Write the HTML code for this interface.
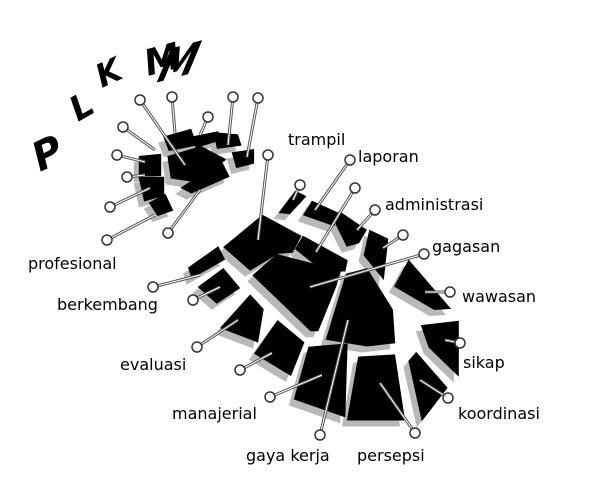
<!DOCTYPE html>
<html><head><meta charset="utf-8"><style>
html,body{margin:0;padding:0;background:#fff;width:596px;height:504px;overflow:hidden}
text{font-family:"DejaVu Sans","Liberation Sans",sans-serif;font-size:16px;fill:#000}
</style></head><body>
<svg id="s" width="596" height="504" viewBox="0 0 596 504">
<g id="letters">
<text x="40" y="172" transform="rotate(-25 40 172)" style="font-size:40px;font-weight:bold;font-style:italic">P</text>
<text x="78" y="122" transform="rotate(-30 78 122)" style="font-size:34px;font-weight:bold;font-style:italic">L</text>
<text x="102" y="88" transform="rotate(-25 102 88)" style="font-size:32px;font-weight:bold;font-style:italic">K</text>
<text x="148" y="76" transform="rotate(-15 148 76)" style="font-size:36px;font-weight:bold;font-style:italic">M</text>
<text x="196" y="72" transform="rotate(-15 196 72) skewX(-30)" style="font-size:40px;font-weight:bold;font-style:italic">M</text>
</g>
<g id="shadows" fill="#b8b8b8" transform="translate(-5,6)"></g>
<g id="blocks" fill="#000"></g>
<g id="pins"></g>
<g id="labels"></g>
</svg>
<script>
const blocks=[
"228,247 263,218 298,237 290,252 277,253 252,268",
"258,277 280,258 337,273 333,287 317,327 310,327",
"330,337 348,278 367,273 390,310 392,340 367,343",
"298,250 305,238 345,260 343,270 323,270",
"280,212 295,192 305,197 290,213",
"305,215 313,202 337,213 333,225",
"337,225 340,213 365,230 358,242 347,245",
"365,255 370,232 387,240 383,277",
"397,287 410,263 448,307 433,308",
"423,327 457,323 457,373 430,347",
"410,363 417,355 445,387 422,417",
"360,360 393,358 402,417 350,417",
"310,350 345,347 343,413 297,397",
"257,353 278,323 302,343 290,373",
"223,327 250,297 262,310 257,340",
"200,287 223,270 238,288 217,302",
"190,267 217,248 223,260 193,277",
"170,157 200,148 223,160 193,180 173,177",
"165,137 190,130 195,145 170,150",
"192,137 217,132 220,140 197,147",
"215,133 237,135 240,145 218,148",
"233,153 253,150 253,163 237,167",
"183,187 220,163 227,177 193,192",
"140,157 160,155 160,175 140,175",
"140,178 163,178 163,195 145,200",
"150,203 165,195 172,210 158,215"
];
const pins=[
[140,100,185,165],[172,97,175,133],[208,117,200,135],[233,97,228,145],[258,98,247,157],
[123,127,155,150],[117,155,145,162],[127,177,145,175],[110,207,150,188],[107,240,155,215],[168,233,200,190],
[268,155,258,240],[300,185,293,200],[350,160,315,210],[355,188,316,252],[375,210,357,230],
[403,235,383,248],[424,254,310,287],[450,292,425,292],[460,343,445,340],[448,398,420,380],
[415,433,380,383],[320,435,348,320],[270,397,322,375],[240,370,272,353],[197,347,238,320],
[193,300,220,287],[153,287,200,275]
];
const labels=["trampil","laporan","administrasi","gagasan","wawasan","sikap","koordinasi","persepsi","gaya kerja","manajerial","evaluasi","berkembang","profesional"];
const labelX=[288,358,385,432,462,463,458,357,246,172,120,57,28];
const labelY=[145,162,210,252,302,368,419,461,461,419,370,310,269];
const NS="http://www.w3.org/2000/svg";
const sh=document.getElementById('shadows'),bl=document.getElementById('blocks'),pg=document.getElementById('pins'),lg=document.getElementById('labels');
function grow(p,k){
 const pts=p.split(' ').map(s=>s.split(',').map(Number));
 let cx=0,cy=0;pts.forEach(q=>{cx+=q[0];cy+=q[1];});cx/=pts.length;cy/=pts.length;
 return pts.map(q=>(cx+(q[0]-cx)*k).toFixed(1)+','+(cy+(q[1]-cy)*k).toFixed(1)).join(' ');
}
blocks.forEach(p=>{
 const g=grow(p,1.12);
 const a=document.createElementNS(NS,'polygon');a.setAttribute('points',g);
 
 
 sh.appendChild(a);
 const b=document.createElementNS(NS,'polygon');b.setAttribute('points',g);
 
 
 bl.appendChild(b);
});
pins.forEach(q=>{
 const l=document.createElementNS(NS,'line');
 l.setAttribute('x1',q[0]);l.setAttribute('y1',q[1]);l.setAttribute('x2',q[2]);l.setAttribute('y2',q[3]);
 l.setAttribute('stroke','#555');l.setAttribute('stroke-width','3');
 
 
 pg.appendChild(l);
 const l2=document.createElementNS(NS,'line');
 l2.setAttribute('x1',q[0]);l2.setAttribute('y1',q[1]);l2.setAttribute('x2',q[2]);l2.setAttribute('y2',q[3]);
 l2.setAttribute('stroke','#fff');l2.setAttribute('stroke-width','1');
 
 
 pg.appendChild(l2);
 const c=document.createElementNS(NS,'circle');
 c.setAttribute('cx',q[0]);c.setAttribute('cy',q[1]);c.setAttribute('r','5');
 c.setAttribute('fill','#fff');c.setAttribute('stroke','#333');c.setAttribute('stroke-width','1.5');
 
 
 pg.appendChild(c);
});
labels.forEach((t,i)=>{
 const e=document.createElementNS(NS,'text');e.setAttribute('x',labelX[i]);e.setAttribute('y',labelY[i]);
 e.textContent=t;
 
 
 lg.appendChild(e);
});
</script>
</body></html>
